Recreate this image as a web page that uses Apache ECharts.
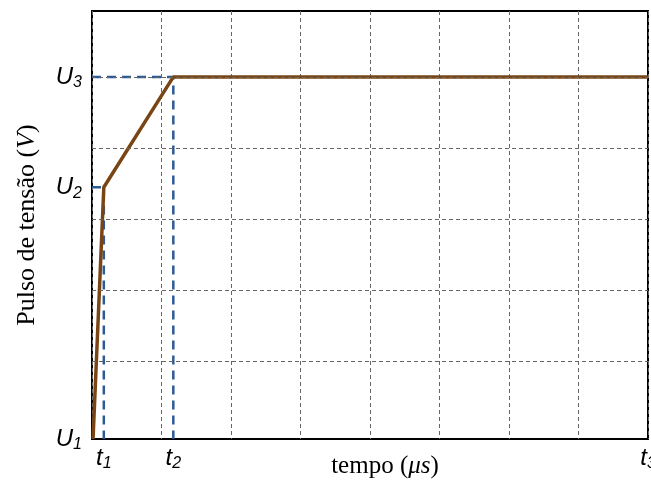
<!DOCTYPE html>
<html>
<head>
<meta charset="utf-8">
<script src="https://cdn.jsdelivr.net/npm/echarts@6/dist/echarts.min.js"></script>
<style>html,body{margin:0;padding:0;background:#fff}#c{width:651px;height:486px}</style>
</head>
<body>
<div id="c"></div>
<script>
// Time points (grid units) and voltage levels (grid units)
var tValues = [0.015, 0.17, 1.17, 8];          // start, t1, t2, t3
var uValues = [0, 3.545, 5.1];                 // U1, U2, U3
var xTickNames = ['t1', 't2', 't3'];
var yTickNames = ['U1', 'U2', 'U3'];
var yGridValues = [1.1, 2.1, 3.1, 4.1, 5.1];

var pulse = [[tValues[0], uValues[0]], [tValues[1], uValues[1]], [tValues[2], uValues[2]], [tValues[3], uValues[2]]];
var guide1 = [[0, uValues[1]], [tValues[1], uValues[1]], [tValues[1], 0]];
var guide2 = [[0, uValues[2]], [tValues[2], uValues[2]], [tValues[2], 0]];

var xLabelVals = [tValues[1], tValues[2], tValues[3]];

function sub(name) {
  return '{u|' + name.charAt(0) + '}{s|' + name.slice(1) + '}';
}

var chart = echarts.init(document.getElementById('c'));
chart.setOption({
  animation: false,
  grid: { left: 92, right: 3, top: 11, bottom: 47, show: true, borderColor: '#000', borderWidth: 2, containLabel: false, outerBoundsMode: 'none' },
  xAxis: {
    type: 'value', min: 0, max: 8, interval: 1,
    name: '{a|tempo (}{b|μs}{a|)}',
    nameLocation: 'middle', nameGap: 15, nameMoveOverlap: false,
    nameTextStyle: {
      padding: [0, 0, 0, 30],
      rich: {
        a: { fontFamily: 'Liberation Serif', fontSize: 25, color: '#000' },
        b: { fontFamily: 'Liberation Serif', fontStyle: 'italic', fontSize: 25, color: '#000' }
      }
    },
    axisLine: { show: false },
    axisTick: { show: false },
    splitLine: { show: true, lineStyle: { color: '#666', type: [4, 3], width: 1 } },
    axisLabel: {
      customValues: xLabelVals,
      margin: 5,
      hideOverlap: false,
      formatter: function (v) {
        for (var i = 0; i < xLabelVals.length; i++) if (Math.abs(v - xLabelVals[i]) < 1e-6) return sub(xTickNames[i]);
        return '';
      },
      rich: {
        u: { fontFamily: 'Liberation Sans', fontStyle: 'italic', fontSize: 24, color: '#000', lineHeight: 28 },
        s: { fontFamily: 'Liberation Sans', fontStyle: 'italic', fontSize: 16, color: '#000', lineHeight: 28, padding: [12, 0, 0, 0] }
      }
    }
  },
  yAxis: {
    type: 'value', min: 0, max: 6.028,
    name: '{a|Pulso de tensão (}{b|V}{a|)}',
    nameLocation: 'middle', nameGap: 52, nameMoveOverlap: false,
    nameTextStyle: {
      rich: {
        a: { fontFamily: 'Liberation Serif', fontSize: 26, color: '#000' },
        b: { fontFamily: 'Liberation Serif', fontStyle: 'italic', fontSize: 26, color: '#000' }
      }
    },
    axisLine: { show: false },
    axisTick: { show: false },
    splitLine: { show: false },
    axisLabel: {
      customValues: uValues,
      margin: 10,
      formatter: function (v) {
        for (var i = 0; i < uValues.length; i++) if (Math.abs(v - uValues[i]) < 1e-6) return sub(yTickNames[i]);
        return '';
      },
      rich: {
        u: { fontFamily: 'Liberation Sans', fontStyle: 'italic', fontSize: 24, color: '#000', lineHeight: 28 },
        s: { fontFamily: 'Liberation Sans', fontStyle: 'italic', fontSize: 16, color: '#000', lineHeight: 28, padding: [12, 0, 0, 0] }
      }
    }
  },
  series: [
    {
      type: 'line', data: [], silent: true,
      markLine: {
        silent: true, symbol: 'none', label: { show: false },
        lineStyle: { color: '#666', type: [4, 3], width: 1 },
        data: yGridValues.map(function (v) { return { yAxis: v }; })
      }
    },
    { type: 'line', data: guide1, symbol: 'none', lineStyle: { color: '#2E5A94', width: 2.5, type: [9, 6] }, z: 3 },
    { type: 'line', data: guide2, symbol: 'none', lineStyle: { color: '#2E5A94', width: 2.5, type: [9, 6] }, z: 3 },
    { type: 'line', data: pulse, symbol: 'none', lineStyle: { color: '#7A4515', width: 3.5 }, z: 4 }
  ]
});
</script>
</body>
</html>
